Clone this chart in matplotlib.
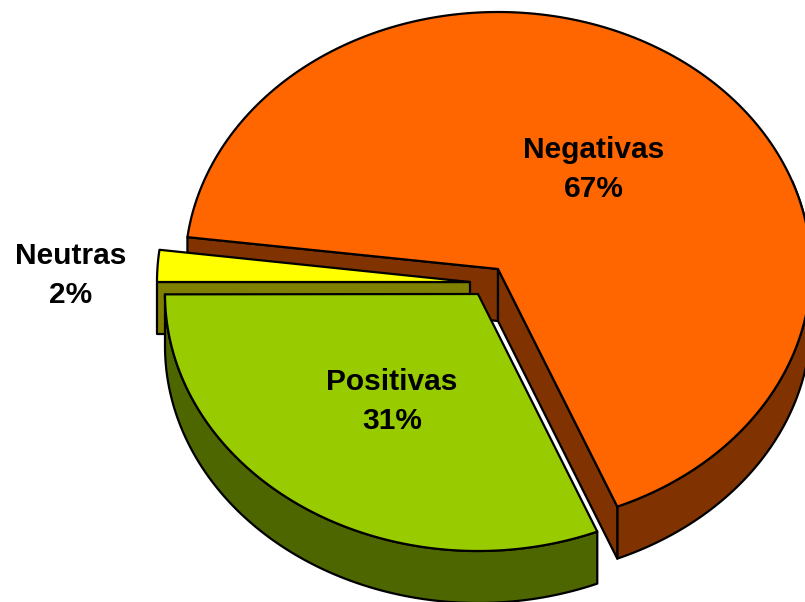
import matplotlib
matplotlib.use("Agg")
import matplotlib.pyplot as plt
import numpy as np
from matplotlib.patches import Polygon

labels = ["Negativas", "Positivas", "Neutras"]
shares = [66.8, 31.2, 2.0]

orange = "#ff6600"
orange_dark = "#803300"
green = "#99cc00"
green_dark = "#4d6600"
yellow = "#ffff00"
yellow_dark = "#808000"

RX, RY = 313, 257
DEPTH = 52
START = 67.6  # where the orange slice starts, ellipse angle


def rim(cx, cy, a0, a1, dy=0):
    t = np.radians(np.linspace(a0, a1, 200))
    return np.column_stack([cx + RX * np.cos(t), cy + RY * np.sin(t) + dy])


def poly(ax, pts, color):
    ax.add_patch(Polygon(pts, closed=True, facecolor=color, edgecolor="black",
                         linewidth=1.6, joinstyle="round"))


def side(ax, a, b, color):
    # flat cut face from point a to point b, pushed down by the depth
    pts = np.array([a, b, b + [0, DEPTH], a + [0, DEPTH]])
    poly(ax, pts, color)


fig = plt.figure(figsize=(8.05, 6.02), dpi=100)
ax = fig.add_axes([0, 0, 1, 1])
ax.set_xlim(0, 805)
ax.set_ylim(602, 0)
ax.axis("off")

sweep = [s * 3.6 for s in shares]

# orange slice
c = np.array([498.0, 269.0])
a0 = START - sweep[0]
a1 = START
edge = rim(*c, a0, a1)
low = rim(*c, a1, -20, DEPTH)
up = rim(*c, -20, a1)
poly(ax, np.vstack([up, low]), orange_dark)
side(ax, c, edge[0], orange_dark)
side(ax, c, edge[-1], orange_dark)
poly(ax, np.vstack([c, edge]), orange)

# yellow slice
c = np.array([470.0, 282.0])
edge = rim(*c, 180, 180 + sweep[2])
side(ax, c, edge[0], yellow_dark)
poly(ax, np.vstack([c, edge]), yellow)

# green slice
c = np.array([478.0, 294.0])
edge = rim(*c, START, START + sweep[1])
low = rim(*c, START + sweep[1], START, DEPTH)
poly(ax, np.vstack([edge, low]), green_dark)
poly(ax, np.vstack([c, edge]), green)

font = dict(family="Liberation Sans", fontweight="bold", fontsize=21.5,
            ha="center", va="center", linespacing=1.52)
ax.text(594, 169.5, f"{labels[0]}\n{shares[0]:.0f}%", **font)
ax.text(392, 401.5, f"{labels[1]}\n{shares[1]:.0f}%", **font)
ax.text(71, 275.5, f"{labels[2]}\n{shares[2]:.0f}%", **font)

fig.savefig("out.png", dpi=100)
